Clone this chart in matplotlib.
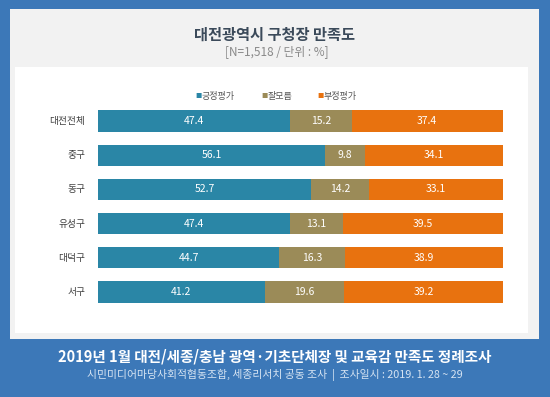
import matplotlib
matplotlib.use("Agg")
import matplotlib.pyplot as plt
from matplotlib.patches import Rectangle

plt.rcParams['font.family'] = ['Noto Sans CJK KR', 'DejaVu Sans']

categories = ['대전전체', '중구', '동구', '유성구', '대덕구', '서구']
positive = [47.4, 56.1, 52.7, 47.4, 44.7, 41.2]
unknown = [15.2, 9.8, 14.2, 13.1, 16.3, 19.6]
negative = [37.4, 34.1, 33.1, 39.5, 38.9, 39.2]
series_names = ['긍정평가', '잘모름', '부정평가']
colors = ['#2a86a6', '#9b8b58', '#e8720f']

title = '대전광역시 구청장 만족도'
subtitle = '[N=1,518 / 단위 : %]'
footer_title = '2019년 1월 대전/세종/충남 광역·기초단체장 및 교육감 만족도 정례조사'
footer_sub = '시민미디어마당사회적협동조합, 세종리서치 공동 조사  |  조사일시 : 2019. 1. 28 ~ 29'

W, H = 550, 397
fig = plt.figure(figsize=(W / 100, H / 100), dpi=100)
fig.patch.set_facecolor('#3c78b8')

def px_rect(x0, y0, x1, y1, color):
    fig.patches.append(Rectangle((x0 / W, 1 - y1 / H), (x1 - x0) / W, (y1 - y0) / H,
                                 transform=fig.transFigure, facecolor=color,
                                 edgecolor='none', zorder=-10))

px_rect(10, 9, 539, 339, '#f2f2f2')
px_rect(15, 67, 528, 333, '#ffffff')

# bars axes: x 98..503, rows centered at 121..292
top, bottom = 121 - 17.1, 292 + 17.1
ax = fig.add_axes([98 / W, 1 - bottom / H, (503 - 98) / W, (bottom - top) / H])
ax.set_zorder(5)
ax.set_xlim(0, 100)
ax.set_ylim(len(categories) - 0.5, -0.5)
ax.axis('off')

ypos = list(range(len(categories)))
lefts = [0] * len(categories)
for vals, c in zip([positive, unknown, negative], colors):
    ax.barh(ypos, vals, left=lefts, height=0.62, color=c, edgecolor='none')
    for y, v, l in zip(ypos, vals, lefts):
        ax.text(l + v / 2, y, f'{v:.1f}', ha='center', va='center',
                color='white', fontsize=7.5)
    lefts = [l + v for l, v in zip(lefts, vals)]

for y, cat in zip(ypos, categories):
    ax.text(-3.2, y, cat, ha='right', va='center', color='#404040', fontsize=7)

# titles
fig.text(275 / W, 1 - 35 / H, title, ha='center', va='center', fontsize=11,
         fontweight='bold', color='#3b4a5a')
fig.text(277 / W, 1 - 52 / H, subtitle, ha='center', va='center', fontsize=8.5,
         color='#8a8a8a')

# legend
leg_x = [195, 261, 317]
for x, name, c in zip(leg_x, series_names, colors):
    fig.text(x / W, 1 - 96 / H, '■', ha='left', va='center', fontsize=4.5, color=c)
    fig.text((x + 7) / W, 1 - 96 / H, name, ha='left', va='center', fontsize=6.5,
             color='#555555')

# footer
fig.text(275 / W, 1 - 357 / H, footer_title, ha='center', va='center', fontsize=10.5,
         fontweight='bold', color='white')
fig.text(275 / W, 1 - 375 / H, footer_sub, ha='center', va='center', fontsize=7.8,
         color='#d5e3f2')

fig.savefig('out.png', dpi=100, facecolor=fig.get_facecolor())
